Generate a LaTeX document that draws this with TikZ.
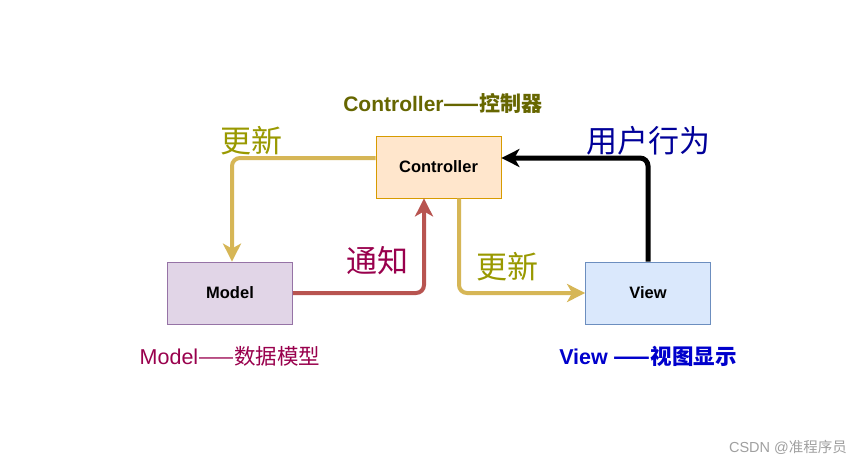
\documentclass[tikz,border=0pt]{standalone}
\usepackage{fontspec}
\setmainfont{Liberation Sans}
\newfontfamily\cjk{Noto Sans CJK SC}
\usetikzlibrary{arrows.meta}
\definecolor{ctrlfill}{HTML}{FFE6CC}
\definecolor{ctrldraw}{HTML}{D79B00}
\definecolor{modfill}{HTML}{E1D5E7}
\definecolor{moddraw}{HTML}{9673A6}
\definecolor{viewfill}{HTML}{DAE8FC}
\definecolor{viewdraw}{HTML}{6C8EBF}
\definecolor{goldline}{HTML}{D6B656}
\definecolor{redline}{HTML}{B85450}
\definecolor{olivetitle}{HTML}{666600}
\definecolor{olivelab}{HTML}{999900}
\definecolor{crim}{HTML}{99004D}
\definecolor{dblue}{HTML}{000099}
\definecolor{vblue}{HTML}{0000CC}
\definecolor{wm}{HTML}{A0A0A0}
\tikzset{
  box/.style={draw, line width=0.8pt, minimum width=125pt, minimum height=62pt, inner sep=0pt, font=\fontsize{16.5}{18}\selectfont\bfseries},
  conn/.style={line width=4pt, rounded corners=8pt, -{Stealth[length=18pt,width=18pt,inset=5pt]}},
  biglab/.style={font=\fontsize{31}{34}\selectfont\cjk, inner sep=0pt},
}
\begin{document}
\begin{tikzpicture}[x=1pt,y=-1pt]
\useasboundingbox[fill=white] (0,0) rectangle (865,467);
\node[box, fill=ctrlfill, draw=ctrldraw] (ctrl) at (438.5,167) {Controller};
\node[box, fill=modfill, draw=moddraw] (model) at (230,293) {Model};
\node[box, fill=viewfill, draw=viewdraw] (view) at (648,293) {View};

\coordinate (cl) at ([yshift=9pt]ctrl.west);
\coordinate (cr) at ([yshift=9pt]ctrl.east);
\coordinate (cbl) at ([xshift=-14.5pt]ctrl.south);
\coordinate (cbr) at ([xshift=20.5pt]ctrl.south);
\coordinate (mt) at ([xshift=2pt]model.north);

\draw[conn, goldline] (cl) -| (mt);
\draw[conn, redline] (model.east) -| (cbl);
\draw[conn, goldline] (cbr) |- (view.west);
\draw[conn, black, line width=5pt] (view.north) |- (cr);

\node[font=\fontsize{21}{24}\selectfont\bfseries, text=olivetitle] (title) at (443,103) {Controller{\cjk ——控制器}};
\node[biglab, text=olivelab] (upd1) at (251,141) {更新};
\node[biglab, text=crim] (notify) at (377,261) {通知};
\node[biglab, text=olivelab] (upd2) at (507,267) {更新};
\node[biglab, text=dblue] (user) at (648,141) {用户行为};
\node[font=\fontsize{21.5}{24}\selectfont, text=crim] (mlab) at (230,356) {Model{\cjk ——数据模型}};
\node[font=\fontsize{21.5}{24}\selectfont\bfseries, text=vblue] (vlab) at (648,356) {View {\cjk\bfseries ——视图显示}};
\node[font=\fontsize{14.5}{16}\selectfont, text=wm] (wmk) at (788,447) {CSDN @{\cjk 准程序员}};
\end{tikzpicture}
\end{document}
